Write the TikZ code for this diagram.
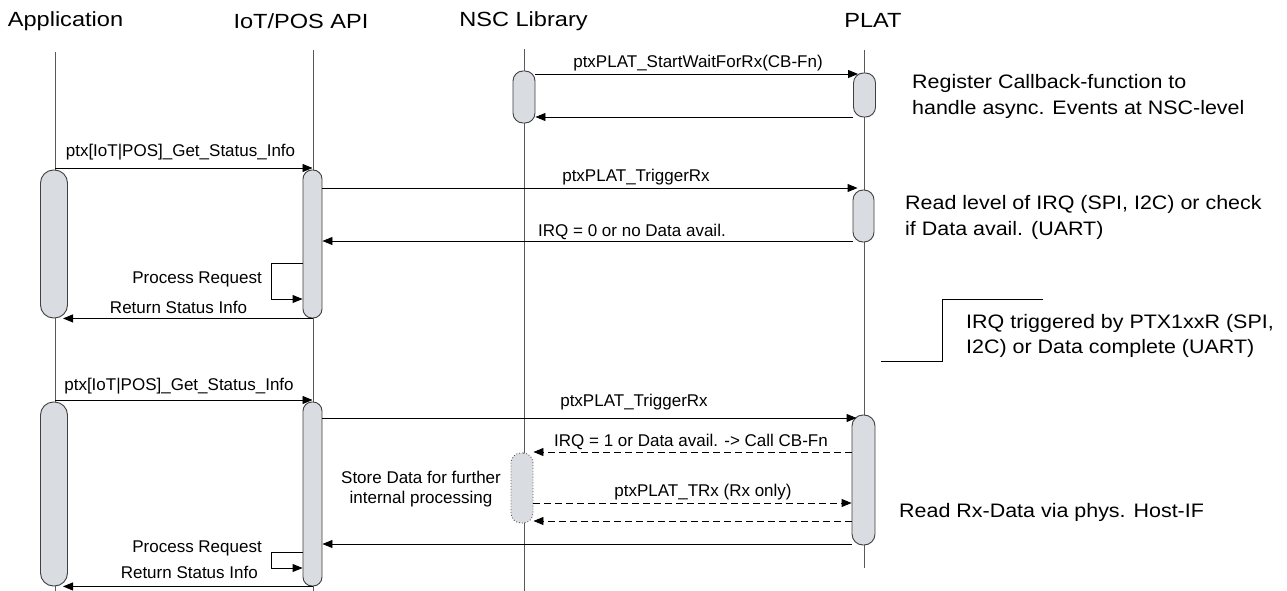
\documentclass[tikz,border=0pt]{standalone}
\usepackage{fontspec}
\setmainfont{Liberation Sans}
\newfontfamily\headfont{Liberation Sans}[FakeStretch=1.15]
\newfontfamily\notefont{Liberation Sans}[FakeStretch=1.1]
\usetikzlibrary{arrows.meta}

\definecolor{barfill}{HTML}{D9DCE1}
\definecolor{barline}{HTML}{3F3F3F}
\definecolor{lifecol}{HTML}{595959}

\begin{document}
\begin{tikzpicture}[x=1pt,y=-1pt,
  head/.style={font=\headfont\fontsize{20.5}{24}\selectfont, anchor=base, inner sep=0pt},
  lbl/.style={font=\fontsize{17}{20}\selectfont, anchor=base, inner sep=0pt},
  note/.style={font=\notefont\fontsize{19.5}{24}\selectfont, anchor=base west, inner sep=0pt},
  life/.style={draw=lifecol, line width=1pt},
  actbar/.style={rectangle, draw=barline, fill=barfill, line width=0.9pt, inner sep=0pt},
  msg/.style={draw=black, line width=0.9pt, -{Triangle[length=10pt,width=8pt]}},
  reply/.style={msg, dash pattern=on 7pt off 4pt},
  bracket/.style={draw=black, line width=0.8pt}]

\useasboundingbox[fill=white] (0,0) rectangle (1287,591);

% participants
\node[head] (hApp)  at (65.5,27) {Application};
\node[head] (hIot)  at (301,29)  {IoT/POS API};
\node[head] (hNsc)  at (523.5,27) {NSC Library};
\node[head] (hPlat) at (873,28)  {PLAT};

% lifelines
\coordinate (appTop)  at (55,52);   \coordinate (appBot)  at (55,591);
\coordinate (iotTop)  at (313,50);  \coordinate (iotBot)  at (313,591);
\coordinate (nscTop)  at (524,49);  \coordinate (nscBot)  at (524,591);
\coordinate (platTop) at (864,50);  \coordinate (platBot) at (864,568);
\draw[life] (appTop) -- (appBot);
\draw[life] (iotTop) -- (iotBot);
\draw[life] (nscTop) -- (nscBot);
\draw[life] (platTop) -- (platBot);

% activation bars
\node[actbar, minimum width=22pt, minimum height=52pt, rounded corners=10pt] (nscA) at (524,97) {};
\node[actbar, minimum width=22pt, minimum height=44pt, rounded corners=10pt] (platA) at (864.5,95) {};
\node[actbar, minimum width=27pt, minimum height=148pt, rounded corners=13pt] (appA) at (54,244) {};
\node[actbar, minimum width=19pt, minimum height=148pt, rounded corners=9pt] (iotA) at (312.5,244) {};
\node[actbar, minimum width=21pt, minimum height=52pt, rounded corners=10pt] (platB) at (863.5,216) {};
\node[actbar, minimum width=27pt, minimum height=184pt, rounded corners=13pt] (appB) at (54,494) {};
\node[actbar, minimum width=19pt, minimum height=184pt, rounded corners=9pt] (iotB) at (312.5,494) {};
\node[actbar, minimum width=23pt, minimum height=130pt, rounded corners=11pt] (platC) at (863.5,480) {};
\node[actbar, draw=lifecol, dotted, minimum width=22pt, minimum height=70pt, rounded corners=10pt] (nscB) at (522,488) {};

% callback registration
\draw[msg] (nscA.east |- 0,74) -- ([xshift=5pt]platA.west |- 0,74);
\node[lbl] (lStart) at (698,68) {ptxPLAT\_StartWaitForRx(CB-Fn)};
\draw[msg] (platA.west |- 0,117) -- (nscA.east |- 0,117);

% first status request
\draw[msg] (appTop |- 0,168) -- (iotA.north |- 0,168);
\node[lbl] (lGet1) at (180.5,157) {ptx[IoT|POS]\_Get\_Status\_Info};
\draw[msg] (iotA.east |- 0,188) -- ([xshift=5pt]platB.west |- 0,188);
\node[lbl] (lTrig1) at (636,181) {ptxPLAT\_TriggerRx};
\draw[msg] (platB.west |- 0,241) -- (iotA.east |- 0,241);
\node[lbl] (lIrq0) at (632,236) {IRQ = 0 or no Data avail.};
\draw[msg] (iotA.west |- 0,263) -- ++(-31,0) -- ++(0,36) -- (iotA.west |- 0,299);
\node[lbl, anchor=base east] (lProc1) at (262,283) {Process Request};
\draw[msg] (iotA.south) -- ([xshift=9pt]appA.south);
\node[lbl] (lRet1) at (178.5,313) {Return Status Info};

% second status request
\draw[msg] (appTop |- 0,400) -- (iotB.north |- 0,400);
\node[lbl] (lGet2) at (179,390) {ptx[IoT|POS]\_Get\_Status\_Info};
\draw[msg] (iotB.east |- 0,418) -- ([xshift=5pt]platC.west |- 0,418);
\node[lbl] (lTrig2) at (634,406) {ptxPLAT\_TriggerRx};
\draw[reply] (platC.west |- 0,452) -- (nscB.east |- 0,452);
\node[lbl] (lIrq1) at (691,446) {IRQ = 1 or Data avail. -> Call CB-Fn};
\draw[reply] (nscB.east |- 0,503) -- (platC.west |- 0,503);
\node[lbl] (lTrx) at (703,496) {ptxPLAT\_TRx (Rx only)};
\draw[reply] (platC.west |- 0,521) -- (nscB.east |- 0,521);
\node[lbl] (lStore1) at (421,483) {Store Data for further};
\node[lbl] (lStore2) at (421,503) {internal processing};
\draw[msg] (platC.west |- 0,544) -- (iotB.east |- 0,544);
\draw[msg] (iotB.west |- 0,552) -- ++(-31,0) -- ++(0,16) -- (iotB.west |- 0,568);
\node[lbl, anchor=base east] (lProc2) at (262,552) {Process Request};
\draw[msg] (iotB.south) -- ([xshift=9pt]appB.south);
\node[lbl, anchor=base east] (lRet2) at (258,578) {Return Status Info};

% notes on the right
\node[note] (nReg1) at (912,89)  {Register Callback-function to};
\node[note] (nReg2) at (912,114) {handle async. Events at NSC-level};
\node[note] (nLvl1) at (905,209) {Read level of IRQ (SPI, I2C) or check};
\node[note] (nLvl2) at (905,235) {if Data avail. (UART)};
\coordinate (brTop) at (1043,299);
\coordinate (brEnd) at (881,361);
\draw[bracket] (brTop) -- (942,299) -- (942,361) -- (brEnd);
\node[note] (nIrq1) at (966,328) {IRQ triggered by PTX1xxR (SPI,};
\node[note] (nIrq2) at (966,353) {I2C) or Data complete (UART)};
\node[note] (nRd) at (899,517) {Read Rx-Data via phys. Host-IF};
\end{tikzpicture}
\end{document}
